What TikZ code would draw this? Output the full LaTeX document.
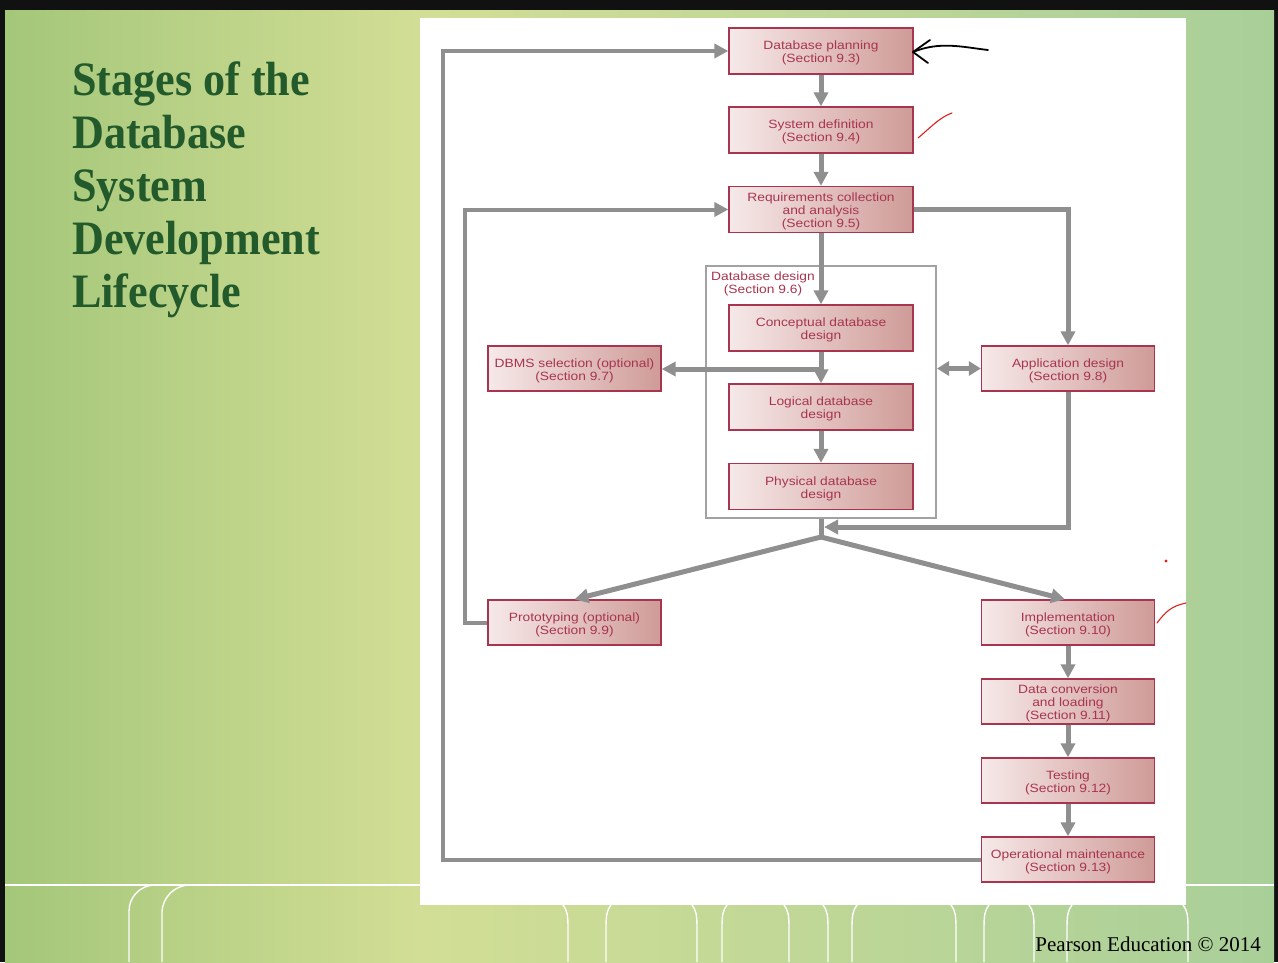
\documentclass[tikz,border=0pt]{standalone}
\usepackage{fontspec}
\usetikzlibrary{arrows.meta}
\newfontfamily\boxfont[FakeStretch=1.15]{Liberation Sans}
\newfontfamily\titlefont[FakeStretch=0.92]{Liberation Serif}
\newfontfamily\notefont{Liberation Serif}

\definecolor{edgedark}{HTML}{111111}
\definecolor{greenL}{HTML}{A4C77A}
\definecolor{greenM}{HTML}{D2DE95}
\definecolor{greenR}{HTML}{A9CF99}
\definecolor{titlegreen}{HTML}{235A2C}
\definecolor{boxL}{HTML}{F6E9E9}
\definecolor{boxR}{HTML}{CF9B97}
\definecolor{boxedge}{HTML}{A8354F}
\definecolor{boxtext}{HTML}{A8354F}
\definecolor{flowgrey}{HTML}{8F8F8F}
\definecolor{framegrey}{HTML}{A2A2A2}
\definecolor{penred}{HTML}{E0201A}

\begin{document}
\begin{tikzpicture}[x=1pt,y=-1pt,
  stage/.style={draw=boxedge, line width=1.3pt, left color=boxL, right color=boxR,
    minimum width=184pt, minimum height=46pt, inner sep=0pt, align=center,
    text=boxtext, font=\boxfont\fontsize{12}{13}\selectfont,
    text height=25.5pt, text depth=2.5pt},
  threeline/.style={text height=38pt},
  side/.style={stage, minimum width=173pt, minimum height=45pt},
  flow/.style={draw=flowgrey, line width=5pt, -{Triangle[length=14pt,width=14pt]}},
  loopline/.style={flow, line width=4pt},
  biflow/.style={draw=flowgrey, line width=5pt,
    {Triangle[length=12pt,width=14pt]}-{Triangle[length=12pt,width=14pt]}},
  plainflow/.style={draw=flowgrey, line width=5pt},
  framebox/.style={draw=framegrey, line width=2pt, minimum width=230pt,
    minimum height=252pt, inner sep=0pt},
  deco/.style={draw=white, line width=1.4pt},
  titleline/.style={anchor=base west, inner sep=0pt, text=titlegreen,
    font=\titlefont\bfseries\fontsize{48}{53}\selectfont},
  pen/.style={line width=1.8pt, line cap=round, line join=round}]

\useasboundingbox (0,0) rectangle (1278,962);

% slide background
\fill[edgedark] (0,0) rectangle (1278,962);
\shade[left color=greenL, right color=greenM] (5,10) rectangle (420,962);
\shade[left color=greenM, right color=greenR] (420,10) rectangle (1274,962);

% white ribbon lines of the slide footer
\draw[deco] (5,885) -- (420,885);
\draw[deco] (1186,885) -- (1274,885);
\draw[deco, rounded corners=26pt] (129,962) -- (129,885) -- (240,885);
\draw[deco, rounded corners=28pt] (162,962) -- (162,885) -- (260,885);
\foreach \x/\d in {568/-1, 606/1, 697/-1, 722/1, 789/-1, 828/-1, 852/1,
                   956/-1, 984/1, 1034/-1, 1067/1, 1188/-1}
  \draw[deco] (\x+\d*5,905) .. controls (\x+\d*1,910) and (\x,915) .. (\x,928) -- (\x,962);

% white panel holding the chart
\fill[white] (420,18) rectangle (1186,905);

% slide title
\node[titleline] (t1) at (72,95) {Stages of the};
\node[titleline] (t2) at (72,148) {Database};
\node[titleline] (t3) at (72,201) {System};
\node[titleline] (t4) at (72,254) {Development};
\node[titleline] (t5) at (72,307) {Lifecycle};

\node[anchor=base east, inner sep=0pt, font=\notefont\fontsize{21}{24}\selectfont]
  (credit) at (1261,951) {Pearson Education \textcopyright{} 2014};

% database design frame
\node[framebox] (dbframe) at (821,392) {};
\node[align=center, inner sep=0pt, text=boxtext, font=\boxfont\fontsize{12}{13}\selectfont]
  (dblabel) at (763,284) {Database design\\(Section 9.6)};

% lifecycle stages
\node[stage] (plan)     at (821,51)    {Database planning\\(Section 9.3)};
\node[stage] (sysdef)   at (821,130)   {System definition\\(Section 9.4)};
\node[stage, threeline] (req) at (821,209.5) {Requirements collection\\and analysis\\(Section 9.5)};
\node[stage] (concept)  at (821,328)   {Conceptual database\\design};
\node[stage] (logical)  at (821,407)   {Logical database\\design};
\node[stage] (physical) at (821,486.5) {Physical database\\design};
\node[side]  (dbms)     at (574.5,368.5) {DBMS selection (optional)\\(Section 9.7)};
\node[side]  (appdes)   at (1068,368.5)  {Application design\\(Section 9.8)};
\node[side]  (proto)    at (574.5,622.5) {Prototyping (optional)\\(Section 9.9)};
\node[side]  (impl)     at (1068,622.5)  {Implementation\\(Section 9.10)};
\node[side, threeline] (dataconv) at (1068,701.5) {Data conversion\\and loading\\(Section 9.11)};
\node[side]  (testing)  at (1068,780.5)  {Testing\\(Section 9.12)};
\node[side]  (opmaint)  at (1068,859.5)  {Operational maintenance\\(Section 9.13)};

% helper points for the connectors
\coordinate (branch) at (821,369);
\coordinate (merge) at (824,527);
\coordinate (fork) at (821,537);
\coordinate (protoloop) at (465,400);
\coordinate (outerloop) at (443,400);

% connectors
\draw[flow] (plan) -- (sysdef);
\draw[flow] (sysdef) -- (req);
\draw[flow] (req) -- (concept);
\draw[flow] (concept) -- (logical);
\draw[flow] (branch) -- (branch -| dbms.east);
\draw[flow] (logical) -- (physical);
\draw[biflow] (dbframe.east |- appdes) -- (appdes.west);
\draw[flow] (req.east) -| (appdes.north);
\draw[flow] (appdes.south) |- (merge);
\draw[plainflow] (dbframe.south) -- (fork);
\draw[flow] (fork) -- ([xshift=-3pt]impl.north);
\draw[flow] (fork) -- (proto.north);
\draw[loopline] (proto.west) -| (protoloop) |- (req.west);
\draw[loopline] (opmaint.west) -| (outerloop) |- (plan.west);
\draw[flow] (impl) -- (dataconv);
\draw[flow] (dataconv) -- (testing);
\draw[flow] (testing) -- (opmaint);

% pen marks
\draw[pen, black] (930,40) -- (913,52) -- (928,63);
\draw[pen, black] (913,52) .. controls (940,41) and (962,47) .. (988,50);
\draw[pen, penred, line width=1.1pt] (918,138) .. controls (930,128) and (940,117) .. (952,113);
\fill[penred] (1166,561) circle (1.6pt);
\draw[pen, penred, line width=1.1pt] (1157,623) .. controls (1166,611) and (1172,606) .. (1186,603);

\end{tikzpicture}
\end{document}
